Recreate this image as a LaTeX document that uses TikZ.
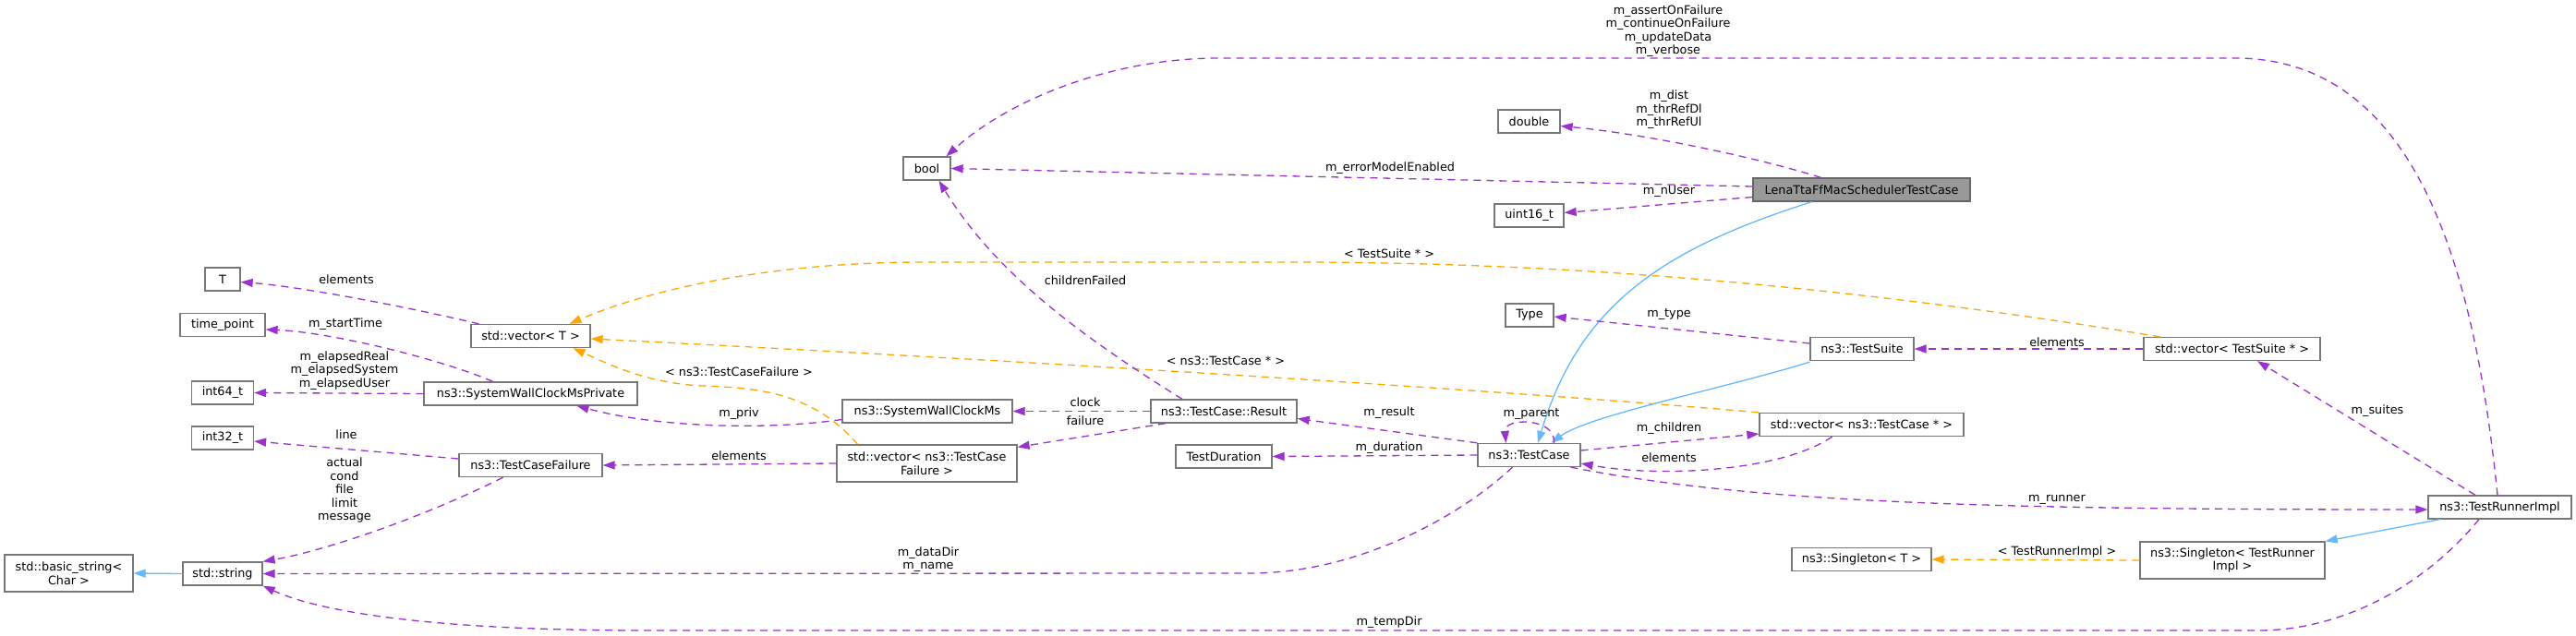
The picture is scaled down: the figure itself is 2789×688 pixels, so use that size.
\documentclass[tikz,border=0pt]{standalone}
\usepackage{fontspec}
\newfontfamily\dv{DejaVu Sans}
\usetikzlibrary{arrows.meta}
\definecolor{edgepurple}{HTML}{9A32CD}
\definecolor{edgeblue}{HTML}{63B8FF}
\definecolor{edgeorange}{HTML}{FFA500}
\definecolor{boxborder}{HTML}{777777}
\definecolor{boxfill}{HTML}{999999}
\begin{document}
\begin{tikzpicture}[x=1pt,y=-1pt,
  box/.style={draw=boxborder, fill=white, line width=1.3pt, inner sep=0pt, minimum height=25pt, align=center, font=\dv\fontsize{12.8}{14.5}\selectfont},
  lbl/.style={inner sep=0pt, align=center, font=\dv\fontsize{12.8}{14.5}\selectfont},
  use/.style={draw=edgepurple, line width=1.3pt, dash pattern=on 8pt off 6pt, -{Triangle[length=13pt,width=9pt]}, edgepurple},
  tmpl/.style={draw=edgeorange, line width=1.3pt, dash pattern=on 8pt off 6pt, -{Triangle[length=13pt,width=9pt]}, edgeorange},
  inh/.style={draw=edgeblue, line width=1.3pt, -{Triangle[length=13pt,width=9pt]}, edgeblue}]
\useasboundingbox (0,0) rectangle (2789,688);
\fill[white] (0,0) rectangle (2789,688);

% nodes
\node[box, minimum width=139pt, minimum height=40pt] (basic) at (74.5,621) {std::basic\_string<\\Char >};
\node[box, minimum width=86pt] (string) at (241,621.5) {std::string};
\node[box, minimum width=38pt] (T) at (241,302.5) {T};
\node[box, minimum width=92pt] (timepoint) at (241,352) {time\_point};
\node[box, minimum width=67pt] (int64) at (241,425.5) {int64\_t};
\node[box, minimum width=67pt] (int32) at (241,474.5) {int32\_t};
\node[box, minimum width=129pt] (vecT) at (574.5,364) {std::vector< T >};
\node[box, minimum width=231pt] (swcmp) at (574.5,426.5) {ns3::SystemWallClockMsPrivate};
\node[box, minimum width=155pt] (tcf) at (574.5,504) {ns3::TestCaseFailure};
\node[box, minimum width=51pt] (bool) at (1003.5,182.5) {bool};
\node[box, minimum width=184pt] (swcm) at (1004,445.5) {ns3::SystemWallClockMs};
\node[box, minimum width=195pt, minimum height=40pt] (vecTCF) at (1003.5,502) {std::vector< ns3::TestCase\\Failure >};
\node[box, minimum width=158pt] (result) at (1325,445.5) {ns3::TestCase::Result};
\node[box, minimum width=104pt] (duration) at (1325,494.5) {TestDuration};
\node[box, minimum width=67pt] (double) at (1655.5,131.5) {double};
\node[box, minimum width=75pt] (uint16) at (1655.5,233.5) {uint16\_t};
\node[box, fill=boxfill, draw=black!60, minimum width=235pt] (lena) at (2015.5,205.5) {LenaTtaFfMacSchedulerTestCase};
\node[box, minimum width=52pt] (type) at (1656,341.5) {Type};
\node[box, minimum width=112pt] (suite) at (2016,378) {ns3::TestSuite};
\node[box, minimum width=191pt] (vecSuite) at (2416.5,378) {std::vector< TestSuite * >};
\node[box, minimum width=221pt] (vecCase) at (2015.5,460) {std::vector< ns3::TestCase * >};
\node[box, minimum width=111pt] (testcase) at (1655.5,493) {ns3::TestCase};
\node[box, minimum width=155pt] (runner) at (2706.5,549.5) {ns3::TestRunnerImpl};
\node[box, minimum width=151pt] (singT) at (2015.5,606) {ns3::Singleton< T >};
\node[box, minimum width=200pt, minimum height=40pt] (singR) at (2417,607) {ns3::Singleton< TestRunner\\Impl >};

% inheritance
\draw[inh] (string.west) -- (basic.east);
\draw[inh] ([xshift=-54pt]lena.south) .. controls (1800,270) and (1710,330) .. ([xshift=9.5pt]testcase.north);
\draw[inh] ([yshift=-1pt]suite.south west) .. controls (1870,420) and (1720,450) .. ([xshift=24pt]testcase.north);
\draw[inh] ([xshift=-65pt]runner.south) -- (singR.north east);

% template instances
\draw[tmpl] ([xshift=-78pt]vecSuite.north) .. controls (2000,310) and (1700,284) .. (1400,284) -- (1000,284) .. controls (830,284) and (700,315) .. ([xshift=42pt]vecT.north);
\draw[tmpl] (vecCase.north west) .. controls (1600,420) and (1000,385) .. ([yshift=-3pt]vecT.east);
\draw[tmpl] ([xshift=-75pt]vecTCF.north) .. controls (880,425) and (820,420) .. (760,418) .. controls (700,415) and (660,395) .. ([xshift=46pt]vecT.south);
\draw[tmpl] (singR.west) -- (singT.east);

% usage
\draw[use] ([yshift=3.5pt]lena.west) -- (bool.east);
\draw[use] ([xshift=-44pt]lena.north) .. controls (1900,170) and (1780,145) .. ([yshift=-5pt]double.east);
\draw[use] ([yshift=-8pt]lena.west) -- ([yshift=3pt]uint16.east);
\draw[use] ([xshift=-2.5pt]runner.north) .. controls (2680,300) and (2620,63) .. (2420,63) -- (1320,63) .. controls (1200,63) and (1090,110) .. ([xshift=21pt]bool.north);
\draw[use] ([xshift=-45pt]result.north) .. controls (1180,370) and (1080,300) .. ([xshift=13pt]bool.south);
\draw[use] (result.west) -- (swcm.east);
\draw[use] ([xshift=-63pt]result.south) -- ([yshift=-3pt]vecTCF.north east);
\draw[use] ([yshift=-9pt]swcm.west) .. controls (840,465) and (720,465) .. ([xshift=50pt]swcmp.south);
\draw[use] (vecTCF.west) -- (tcf.east);
\draw[use] (swcmp.west) -- (int64.east);
\draw[use] ([xshift=-41pt]swcmp.north) .. controls (480,390) and (360,360) .. ([yshift=-5pt]timepoint.east);
\draw[use] ([xshift=-56pt]vecT.north) .. controls (430,330) and (320,310) .. ([yshift=-3pt]T.east);
\draw[use] ([yshift=7pt]tcf.west) -- ([yshift=-3.5pt]int32.east);
\draw[use] ([xshift=-30pt]tcf.south) .. controls (470,555) and (360,595) .. (string.north east);
\draw[use] ([xshift=-18pt]testcase.south) .. controls (1580,560) and (1470,621) .. (1353,621) -- (string.east);
\draw[use] ([xshift=-22.5pt]runner.south) .. controls (2620,640) and (2530,683) .. (2445,683) -- (700,683) .. controls (450,683) and (340,660) .. (string.south east);
\draw[use] (testcase.north west) -- ([yshift=-8pt]result.east);
\draw[use] (testcase.west) -- (duration.east);
\draw[use] ([yshift=6pt]suite.west) -- ([yshift=-1.5pt]type.east);
\draw[use] (vecSuite.west) -- (suite.east);
\draw[use] ([xshift=27pt]testcase.north) .. controls (1685,452) and (1628,452) .. ([xshift=-25pt]testcase.north);
\draw[use] ([yshift=5pt]testcase.east) -- ([yshift=-10pt]vecCase.west);
\draw[use] ([xshift=-32pt]vecCase.south) .. controls (1930,510) and (1800,518) .. ([yshift=-9pt]testcase.east);
\draw[use] ([xshift=45pt]testcase.south) .. controls (1900,545) and (2150,552) .. ([yshift=-2.5pt]runner.west);
\draw[use] ([xshift=-26.5pt]runner.north) -- ([xshift=27.5pt]vecSuite.south);

% labels
\node[lbl] (la1) at (375,303) {elements};
\node[lbl] (la2) at (374,351) {m\_startTime};
\node[lbl] (la3) at (373,401.5) {m\_elapsedReal\\m\_elapsedSystem\\m\_elapsedUser};
\node[lbl] (la4) at (375,471) {line};
\node[lbl] (la5) at (373,531) {actual\\cond\\file\\limit\\message};
\node[lbl] (la6) at (1504,275) {< TestSuite * >};
\node[lbl] (la7) at (1327,391) {< ns3::TestCase * >};
\node[lbl] (la8) at (800,403) {< ns3::TestCaseFailure >};
\node[lbl] (la9) at (800,448) {m\_priv};
\node[lbl] (la10) at (800,494) {elements};
\node[lbl] (la11) at (1175,304) {childrenFailed};
\node[lbl] (la12) at (1175,436) {clock};
\node[lbl] (la13) at (1175,456) {failure};
\node[lbl] (la14) at (1505,182) {m\_errorModelEnabled};
\node[lbl] (la15) at (1807,119) {m\_dist\\m\_thrRefDl\\m\_thrRefUl};
\node[lbl] (la16) at (1807,207) {m\_nUser};
\node[lbl] (la17) at (1806,33.5) {m\_assertOnFailure\\m\_continueOnFailure\\m\_updateData\\m\_verbose};
\node[lbl] (la18) at (1504,447) {m\_result};
\node[lbl] (la19) at (1504,485) {m\_duration};
\node[lbl] (la20) at (1005,606) {m\_dataDir\\m\_name};
\node[lbl] (la21) at (1504,674) {m\_tempDir};
\node[lbl] (la22) at (1807,341) {m\_type};
\node[lbl] (la23) at (2227,371) {elements};
\node[lbl] (la24) at (1658,449) {m\_parent};
\node[lbl] (la25) at (1807,464) {m\_children};
\node[lbl] (la26) at (1807,496) {elements};
\node[lbl] (la27) at (2574,445) {m\_suites};
\node[lbl] (la28) at (2227,541) {m\_runner};
\node[lbl] (la29) at (2227,598) {< TestRunnerImpl >};
\end{tikzpicture}
\end{document}
